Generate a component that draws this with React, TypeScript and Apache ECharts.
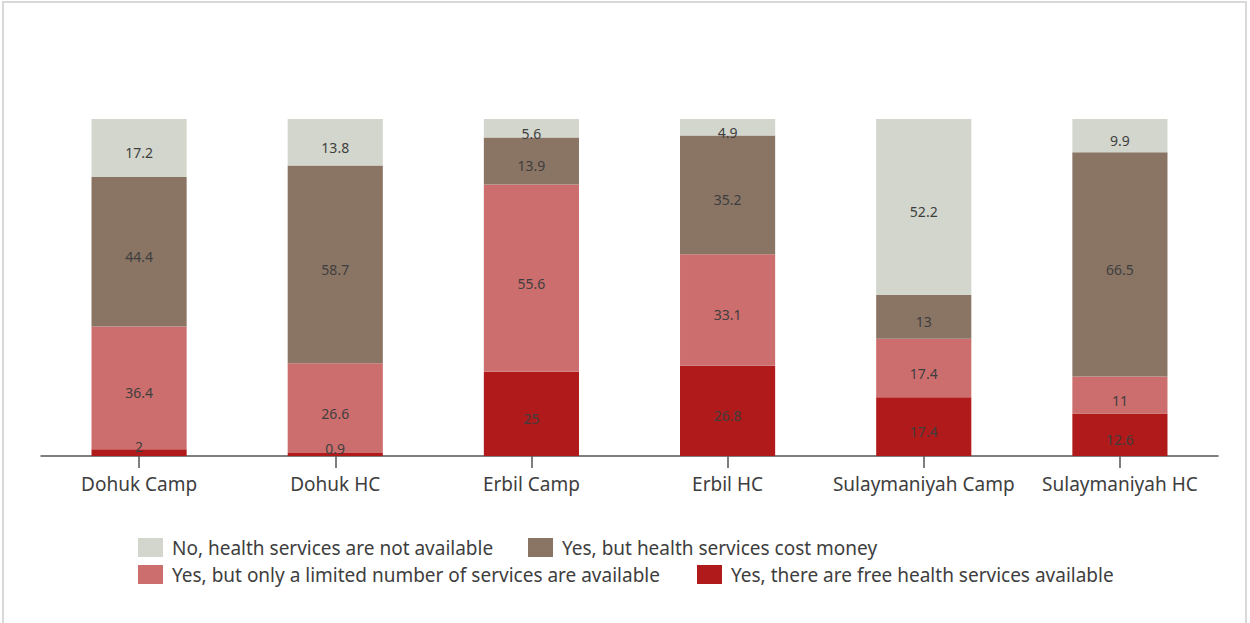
import React, { useEffect, useRef } from "react";
import * as echarts from "echarts";

const categories = ["Dohuk Camp", "Dohuk HC", "Erbil Camp", "Erbil HC", "Sulaymaniyah Camp", "Sulaymaniyah HC"];
const seriesNames = [
  "No, health services are not available",
  "Yes, but health services cost money",
  "Yes, but only a limited number of services are available",
  "Yes, there are free health services available",
];
const freeValues = [2, 0.9, 25, 26.8, 17.4, 12.6];
const limitedValues = [36.4, 26.6, 55.6, 33.1, 17.4, 11];
const costValues = [44.4, 58.7, 13.9, 35.2, 13, 66.5];
const noneValues = [17.2, 13.8, 5.6, 4.9, 52.2, 9.9];

const colors = {
  none: "#d3d6cc",
  cost: "#8a7565",
  limited: "#cd6e6e",
  free: "#b01a1a",
};

const FONT = "'Noto Sans', sans-serif";
const TEXT = "#3e3e3e";

export default function App() {
  const ref = useRef<HTMLDivElement>(null);
  useEffect(() => {
    if (!ref.current) return;
    const chart = echarts.init(ref.current, null, { renderer: "svg" });
    const label = {
      show: true,
      position: "inside",
      offset: [0, 5],
      color: TEXT,
      fontSize: 14,
      fontFamily: FONT,
    };
    const mk = (name: string, values: number[], color: string) => ({
      name,
      type: "bar",
      stack: "total",
      barWidth: "48.5%",
      itemStyle: { color },
      label,
      data: values.map((v) =>
        v < 3 ? { value: v, label: { offset: [0, -6] } } : v
      ),
    });
    const legendBase = (name: string, left: number, top: number) => ({
      data: [name],
      left,
      top,
      padding: 0,
      orient: "horizontal",
      itemWidth: 25,
      itemHeight: 19,
      icon: "rect",
      selectedMode: false,
      textStyle: { color: TEXT, fontSize: 19, fontFamily: FONT, padding: [0, 0, 0, 4] },
    });
    chart.setOption({
      animation: false,
      color: [colors.none, colors.cost, colors.limited, colors.free],
      grid: { left: 41, right: 32, top: 119, bottom: 167, containLabel: false },
      legend: [
        legendBase(seriesNames[0], 138, 538),
        legendBase(seriesNames[1], 528, 538),
        legendBase(seriesNames[2], 138, 565),
        legendBase(seriesNames[3], 697, 565),
      ],
      xAxis: {
        type: "category",
        data: categories,
        axisLine: { lineStyle: { color: "#555", width: 1.5 } },
        axisTick: { show: true, alignWithLabel: true, length: 12, lineStyle: { color: "#555", width: 1.5 } },
        axisLabel: { interval: 0, color: TEXT, fontSize: 19, fontFamily: FONT, margin: 18 },
      },
      yAxis: {
        type: "value",
        min: 0,
        max: 100,
        show: false,
        splitLine: { show: false },
      },
      series: [
        mk(seriesNames[3], freeValues, colors.free),
        mk(seriesNames[2], limitedValues, colors.limited),
        mk(seriesNames[1], costValues, colors.cost),
        mk(seriesNames[0], noneValues, colors.none),
      ],
      graphic: [
        {
          type: "rect",
          shape: { x: 3, y: 2, width: 1243, height: 660 },
          style: { fill: "none", stroke: "#d9d9d9", lineWidth: 2 },
          silent: true,
        },
      ],
    });
    return () => chart.dispose();
  }, []);
  return (
    <div
      ref={ref}
      style={{ position: "fixed", left: 0, top: 0, width: 1250, height: 623, background: "#fff" }}
    />
  );
}
